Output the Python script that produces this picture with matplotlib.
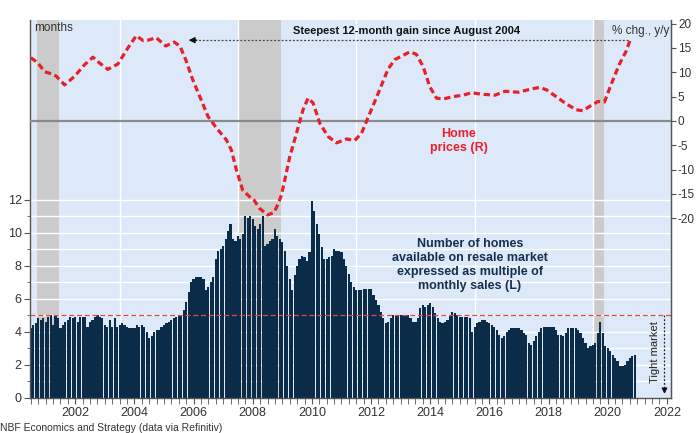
import numpy as np
import matplotlib
matplotlib.use("Agg")
import matplotlib.pyplot as plt
from matplotlib.ticker import FixedLocator

plt.rcParams['font.family'] = ['Liberation Sans', 'DejaVu Sans']
plt.rcParams['axes.unicode_minus'] = False

# ---------------- data ----------------
# Months' supply of existing homes (L), monthly from Jan 2001
months_supply = [
    4.2, 4.4, 4.5, 4.8, 4.7, 4.8, 4.6, 4.9, 5.0, 4.4, 5.0, 4.8,   # 2001
    4.2, 4.4, 4.6, 4.7, 4.9, 4.8, 4.9, 4.6, 4.9, 4.9, 4.9, 4.3,   # 2002
    4.6, 4.7, 4.9, 5.0, 4.9, 4.8, 4.4, 4.3, 4.7, 4.3, 4.8, 4.3,   # 2003
    4.4, 4.5, 4.4, 4.3, 4.2, 4.2, 4.2, 4.4, 4.3, 4.4, 4.3, 4.0,   # 2004
    3.6, 3.7, 4.0, 4.1, 4.1, 4.3, 4.4, 4.5, 4.6, 4.7, 4.8, 4.9,   # 2005
    5.0, 5.0, 5.3, 5.8, 6.4, 7.0, 7.2, 7.3, 7.3, 7.3, 7.2, 6.5,   # 2006
    6.7, 7.0, 7.3, 8.4, 8.9, 9.0, 9.2, 9.6, 10.1, 10.5, 9.6, 9.5, # 2007
    9.8, 9.6, 9.9, 11.0, 10.9, 11.0, 10.8, 10.4, 10.2, 10.5, 11.0, 9.2,  # 2008
    9.3, 9.5, 9.6, 10.2, 9.8, 9.6, 9.4, 8.9, 8.0, 7.2, 6.5, 7.4,  # 2009
    8.0, 8.4, 8.6, 8.5, 8.3, 8.8, 11.9, 11.3, 10.5, 9.9, 9.1, 8.4,  # 2010
    8.4, 8.5, 8.6, 9.0, 8.9, 8.9, 8.8, 8.4, 8.0, 7.5, 7.0, 6.7,   # 2011
    6.5, 6.5, 6.5, 6.6, 6.6, 6.6, 6.6, 6.2, 5.9, 5.6, 5.2, 4.8,   # 2012
    4.5, 4.6, 4.8, 5.0, 5.0, 5.0, 5.0, 5.0, 5.0, 5.0, 4.8, 4.6,   # 2013
    4.6, 4.8, 5.4, 5.6, 5.5, 5.6, 5.7, 5.5, 5.1, 4.8, 4.6, 4.5,   # 2014
    4.6, 4.7, 5.0, 5.2, 5.1, 5.0, 4.9, 4.9, 4.9, 4.9, 4.8, 4.0,   # 2015
    4.3, 4.5, 4.6, 4.7, 4.7, 4.6, 4.5, 4.4, 4.3, 4.1, 3.8, 3.6,   # 2016
    3.7, 4.0, 4.1, 4.2, 4.2, 4.2, 4.2, 4.1, 3.9, 3.8, 3.3, 3.2,   # 2017
    3.4, 3.7, 4.0, 4.2, 4.3, 4.3, 4.3, 4.3, 4.3, 4.1, 3.8, 3.8,   # 2018
    3.7, 3.9, 4.2, 4.2, 4.2, 4.2, 4.1, 3.9, 3.6, 3.3, 3.0, 3.1,   # 2019
    3.2, 3.3, 3.9, 4.6, 3.9, 3.1, 3.0, 2.8, 2.6, 2.4, 2.2, 1.9,   # 2020
    1.9, 2.0, 2.2, 2.4, 2.5, 2.6,                                 # 2021
]
first_year = 2001

# Home prices, % chg. y/y (R): (decimal year, value)
price_dates = [
    2001.00, 2001.24, 2001.47, 2001.69, 2001.86, 2002.14, 2002.48, 2002.82,
    2003.10, 2003.32, 2003.60, 2003.94, 2004.28, 2004.56, 2004.80, 2004.96,
    2005.24, 2005.56, 2005.84, 2006.04, 2006.24, 2006.47, 2006.71, 2006.99,
    2007.28, 2007.61, 2007.78, 2007.95, 2008.16, 2008.40, 2008.55, 2008.72,
    2009.00, 2009.22, 2009.36, 2009.47, 2009.58, 2009.75, 2009.98, 2010.20,
    2010.37, 2010.54, 2010.77, 2011.05, 2011.33, 2011.67, 2011.95, 2012.18,
    2012.46, 2012.79, 2013.07, 2013.30, 2013.53, 2013.81, 2014.03, 2014.26,
    2014.48, 2014.71, 2014.93, 2015.27, 2015.61, 2015.90, 2016.24, 2016.69,
    2017.03, 2017.48, 2017.93, 2018.21, 2018.43, 2018.76, 2019.10, 2019.44,
    2019.66, 2019.89, 2020.17, 2020.39, 2020.61, 2020.89, 2021.12, 2021.29,
]
price_yoy = [
    13.0, 11.9, 10.1, 9.7, 9.2, 7.4, 9.2, 11.6,
    13.1, 11.9, 10.6, 11.7, 15.0, 17.5, 16.5, 16.6,
    17.1, 15.4, 16.2, 15.4, 12.5, 8.5, 5.0, 0.9,
    -1.5, -3.9, -6.0, -10.1, -14.2, -15.6, -16.3, -17.9,
    -19.3, -18.8, -17.0, -15.2, -12.2, -7.4, -2.5, 2.3,
    4.7, 3.7, -0.5, -3.2, -4.5, -3.7, -4.0, -2.5,
    1.6, 6.4, 10.6, 12.6, 13.3, 14.2, 13.7, 11.2,
    7.1, 4.7, 4.5, 5.0, 5.3, 5.8, 5.5, 5.3,
    6.1, 5.9, 6.6, 6.9, 6.4, 5.0, 3.5, 2.3,
    2.1, 3.0, 4.0, 3.9, 7.4, 11.6, 14.3, 17.1,
]

recessions = [(2001.22, 2001.95), (2008.0, 2009.46), (2020.05, 2020.38)]
tight_market_level = 5
year_labels = [str(y) for y in range(2002, 2023, 2)]

# ---------------- figure ----------------
W, H = 699, 433
fig = plt.figure(figsize=(W / 100, H / 100), dpi=100)
fig.patch.set_facecolor('white')
L, R, T, B = 30, 671, 20, 397.5
ax = fig.add_axes([L / W, 1 - B / H, (R - L) / W, (B - T) / H])
ax.set_facecolor('#dde9f9')
ax.set_xlim(2000.97, 2022.64)
ax.set_ylim(0, 22.88)

for s, e in recessions:
    ax.axvspan(s, e, color='#cbcbcb', lw=0, zorder=0.5)
for g in range(1, 13):
    ax.axhline(g, color='white', lw=1.0, zorder=0.7)
for yr in range(2004, 2021, 4):
    ax.axvline(yr, color='white', lw=1.0, zorder=0.7)

bar_dates = first_year + np.arange(len(months_supply)) / 12.0
ax.bar(bar_dates, months_supply, width=0.88 / 12, color='#0b2c48',
       linewidth=0, zorder=2)
ax.axhline(tight_market_level, color='#e04455', lw=0.9, ls=(0, (4, 2.2)), zorder=3)

ax.spines['top'].set_visible(False)
for side in ['left', 'bottom', 'right']:
    ax.spines[side].set_color('#555555')
    ax.spines[side].set_linewidth(1.0)

ax.yaxis.set_major_locator(FixedLocator(range(0, 13, 2)))
ax.yaxis.set_minor_locator(FixedLocator(range(0, 13)))
ax.tick_params(axis='y', which='major', length=4, color='#555555',
               labelsize=9, labelcolor='#333333', pad=2)
ax.tick_params(axis='y', which='minor', length=2.5, color='#555555')

ax.xaxis.set_major_locator(FixedLocator([y + 0.5 for y in range(2002, 2023, 2)]))
ax.set_xticklabels(year_labels)
ax.xaxis.set_minor_locator(FixedLocator(np.arange(2001, 2022.7, 0.25)))
ax.tick_params(axis='x', which='major', length=4, color='#555555',
               labelsize=9, labelcolor='#333333', pad=3)
ax.tick_params(axis='x', which='minor', length=4, color='#555555')

# right axis: home prices
ax2 = ax.twinx()
ax2.set_ylim(-56.8, 20.74)
ax2.patch.set_visible(False)
for side in ['top', 'left', 'bottom']:
    ax2.spines[side].set_visible(False)
ax2.spines['right'].set_color('#555555')
ax2.axhline(0, color='#8a8a8a', lw=1.6, zorder=1)
ax2.plot(price_dates, price_yoy, color='#e8202a', lw=2.3,
         ls=(0, (2.0, 1.15)), zorder=3, solid_capstyle='butt')
ax2.yaxis.set_major_locator(FixedLocator(range(-20, 21, 5)))
ax2.tick_params(axis='y', length=3.5, color='#555555', labelsize=8.5,
                labelcolor='#333333', pad=1.5)

# top annotation arrow
arrow_y = 16.6
ax2.plot([2021.17, 2006.5], [arrow_y, arrow_y], color='#444444', lw=0.9,
         ls=(0, (1.5, 1.5)), zorder=4)
ax2.annotate('', xy=(2006.24, arrow_y), xytext=(2006.7, arrow_y),
             arrowprops=dict(arrowstyle='-|>', color='#111111', lw=0.9,
                             mutation_scale=9), zorder=5)

# tight market arrow
tx = 2022.42
ax.plot([tx, tx], [tight_market_level, 0.6], color='#222222', lw=0.9,
        ls=(0, (1.5, 1.5)), zorder=4)
ax.annotate('', xy=(tx, 0.05), xytext=(tx, 0.6),
            arrowprops=dict(arrowstyle='-|>', color='#111111', lw=0.9,
                            mutation_scale=8), zorder=5)


def fx(x):
    return x / W


def fy(y):
    return 1 - y / H


fig.text(fx(34), fy(28), 'months', fontsize=8.5, color='#333333',
         ha='left', va='center')
fig.text(fx(669), fy(31), '% chg., y/y', fontsize=8.5, color='#333333',
         ha='right', va='center')
fig.text(fx(407), fy(31), 'Steepest 12-month gain since August 2004',
         fontsize=8, fontweight='bold', color='#111111', ha='center', va='center')
fig.text(fx(459), fy(141), 'Home\nprices (R)', fontsize=9, fontweight='bold',
         color='#e8202a', ha='center', va='center', linespacing=1.25)
fig.text(fx(470), fy(265),
         'Number of homes\navailable on resale market\nexpressed as multiple of\nmonthly sales (L)',
         fontsize=9, fontweight='bold', color='#17304d', ha='center', va='center',
         linespacing=1.2)
fig.text(fx(655), fy(352), 'Tight market', fontsize=8, color='#222222',
         rotation=90, ha='center', va='center')
fig.text(fx(0), fy(428), 'NBF Economics and Strategy (data via Refinitiv)',
         fontsize=7.5, color='#333333', ha='left', va='center')

fig.savefig('out.png', dpi=100, facecolor='white')
